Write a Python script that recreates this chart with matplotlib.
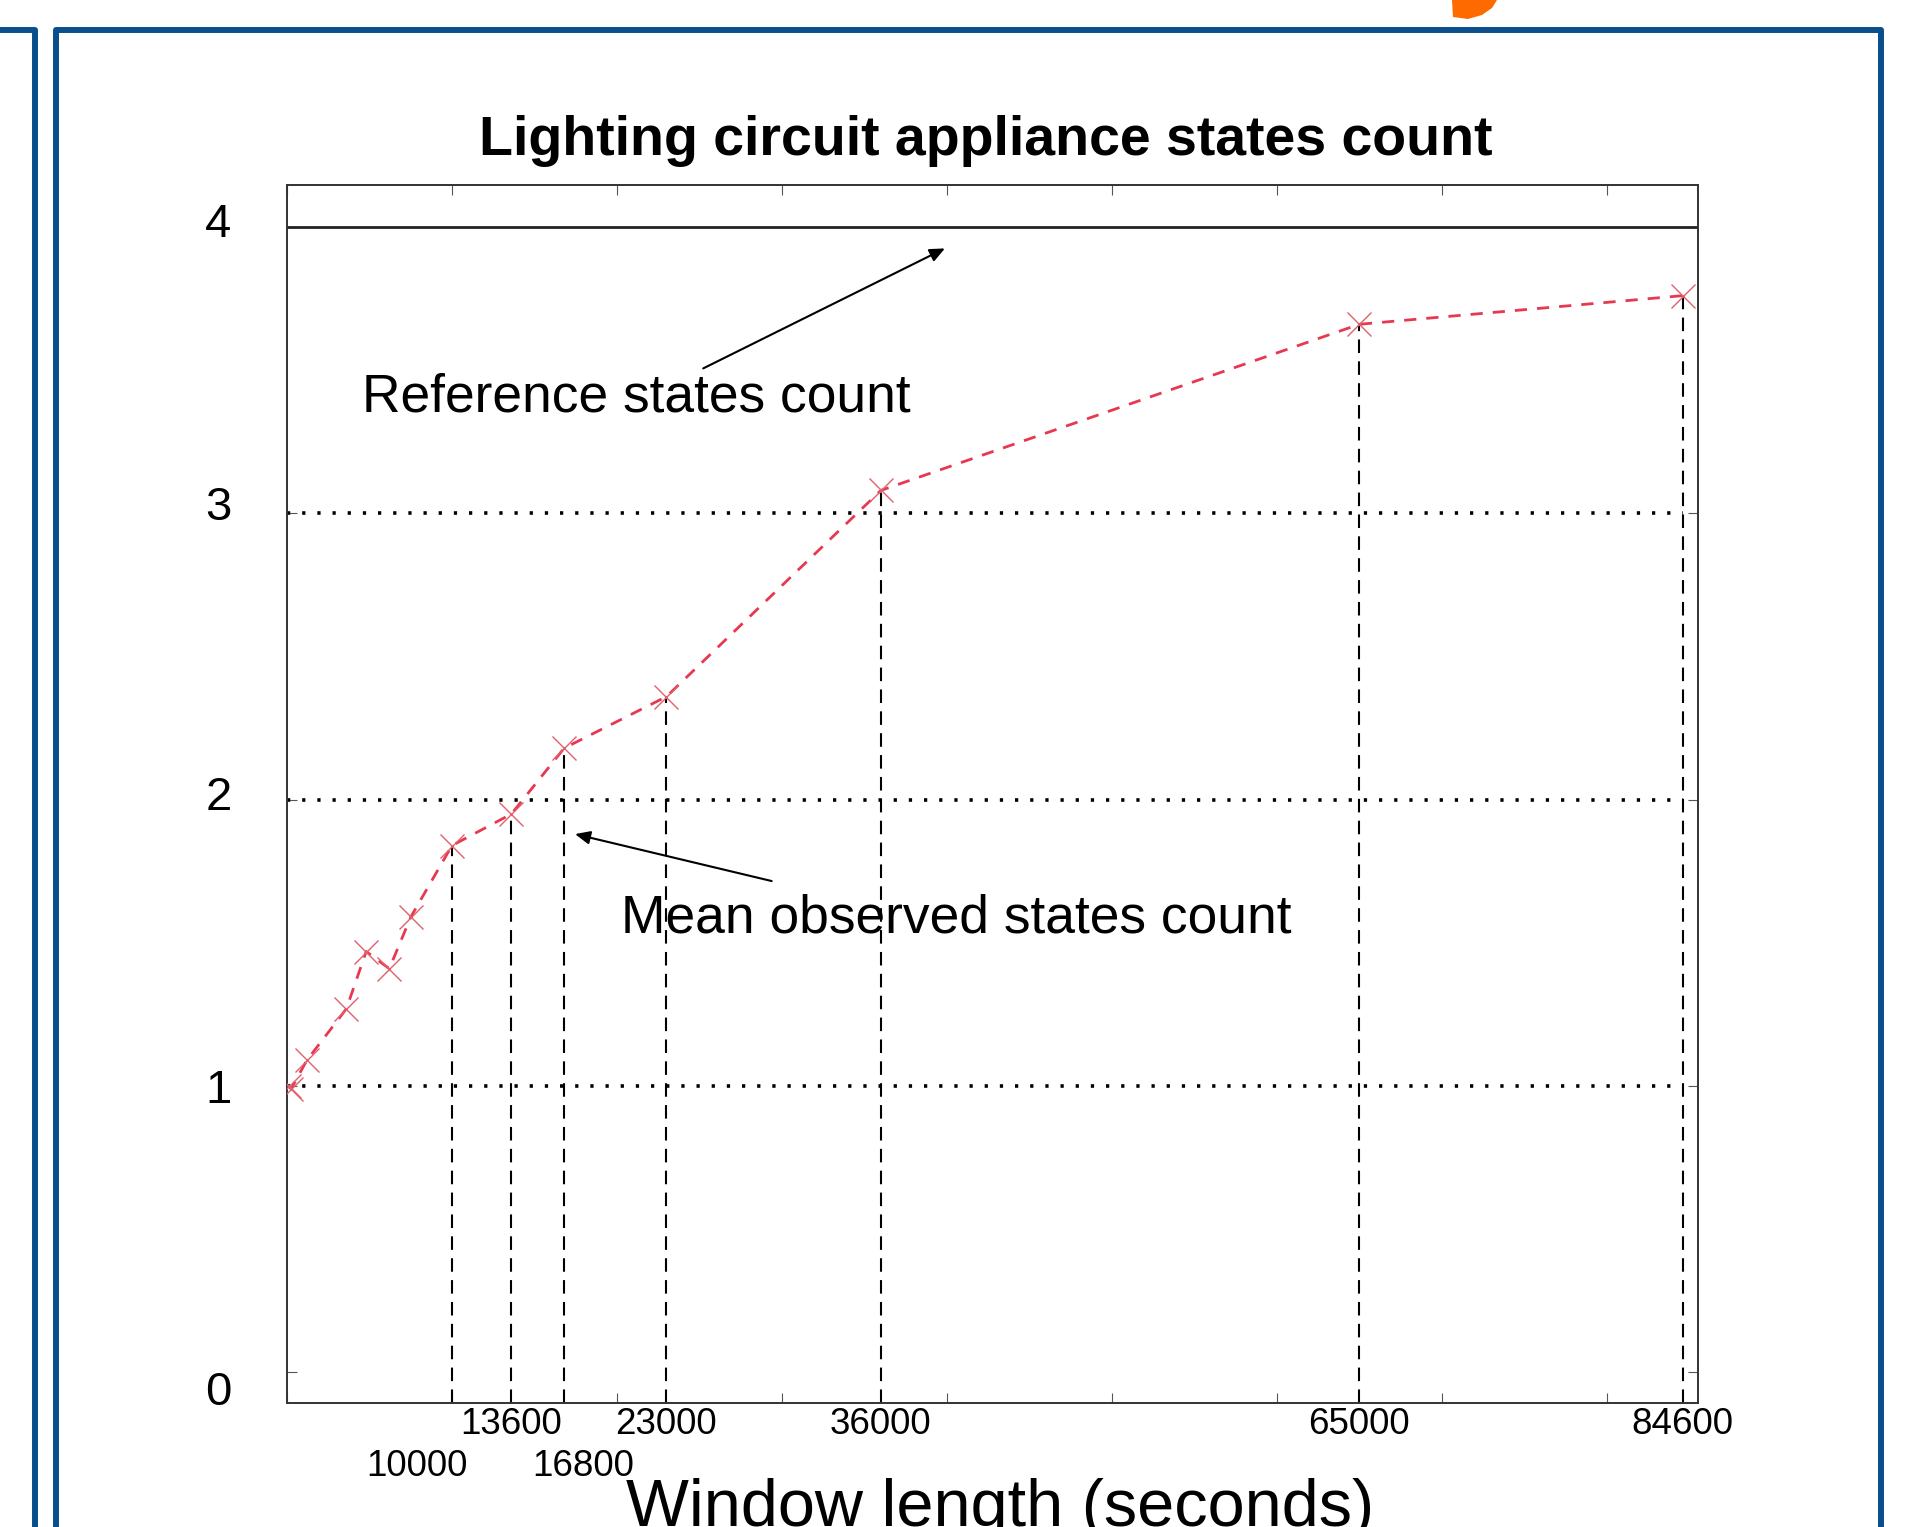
import matplotlib
matplotlib.use("Agg")
import matplotlib.pyplot as plt
import matplotlib.transforms as mtransforms
from matplotlib.lines import Line2D
from matplotlib.patches import Polygon

# mean observed states count per window length (seconds)
window_len = [100, 250, 1200, 3600, 4800, 6200, 7500, 10000, 13600, 16800,
              23000, 36000, 65000, 84600]
mean_states = [1.00, 0.99, 1.09, 1.27, 1.47, 1.41, 1.59, 1.84, 1.95, 2.18,
               2.36, 3.08, 3.66, 3.76]

# windows marked with a drop line and a label
marked_len = [10000, 13600, 16800, 23000, 36000, 65000, 84600]
marked_states = [1.84, 1.95, 2.18, 2.36, 3.08, 3.66, 3.76]
marked_labels = ["10000", "13600", "16800", "23000", "36000", "65000", "84600"]

reference_count = 4
y_ticks = [0, 1, 2, 3, 4]
grid_levels = [1, 2, 3]

W, H = 1913, 1527
font = ["Liberation Sans", "DejaVu Sans"]
blue = "#0a4f8c"

fig = plt.figure(figsize=(W / 100, H / 100), dpi=100)


def px(x, y):
    return x / W, 1 - y / H


# slide frame
frame = [
    [(0, 30), (35, 30), (35, H)],
    [(56, H), (56, 30), (1881, 30), (1881, H)],
]
for seg in frame:
    xs, ys = zip(*[px(*p) for p in seg])
    fig.add_artist(Line2D(xs, ys, color=blue, lw=4.3, solid_joinstyle="round"))
blob = [px(1452, 0), px(1453, 17), px(1468, 19), px(1482, 15), px(1492, 8), px(1497, 0)]
fig.add_artist(Polygon(blob, closed=True, color="#ff6a00", lw=0))

ax = fig.add_axes([287 / W, 1 - 1403 / H, (1698 - 287) / W, (1403 - 185.4) / H])
ax.set_xlim(0, 85530)
ax.set_ylim(-0.1065, 4.145)

for s in ax.spines.values():
    s.set_color("#333333")
    s.set_linewidth(1.4)

ax.set_xticks(range(0, 85000, 10000))
ax.set_xticklabels([])
ax.tick_params(axis="x", direction="in", length=7, width=0.8, color="#555555",
               top=True, bottom=True)
ax.set_yticks(y_ticks)
ax.set_yticklabels([str(v) for v in y_ticks], family=font, fontsize=34)
ax.tick_params(axis="y", direction="in", length=7, width=0.8, color="#555555",
               left=True, right=True, pad=40)
# hand-placed look of the y labels (pixel nudges, positive = down)
for lab, dy in zip(ax.get_yticklabels(), [16, 0, -7, -10, -7]):
    lab.set_transform(lab.get_transform() +
                      mtransforms.ScaledTranslation(0, -dy / 100, fig.dpi_scale_trans))

# reference level and dotted guides
ax.axhline(reference_count, color="#222222", lw=2)
ax.hlines(grid_levels, 0, marked_len[-1], colors="black", lw=2.6,
          linestyles=(0, (0.9, 3.3)))

# drop lines
for x, y in zip(marked_len, marked_states):
    ax.plot([x, x], [ax.get_ylim()[0], y], color="black", lw=1.5,
            dashes=(6.5, 4))

ax.plot(window_len, mean_states, color="#e8384f", lw=2, dashes=(4.4, 3.6),
        marker="x", markersize=17, markeredgewidth=1.0,
        markeredgecolor="#e0606c", zorder=3)

# tick labels in two rows
tr = ax.get_xaxis_transform()
shift = {"10000": -25, "16800": 14}
for x, lab in zip(marked_len, marked_labels):
    row2 = lab in shift
    ax.annotate(lab, (x, -0.052 if row2 else -0.0175), xycoords=tr,
                xytext=(shift.get(lab, 0), 0), textcoords="offset points",
                ha="center", va="center", family=font, fontsize=26.5,
                annotation_clip=False)

arrow = dict(arrowstyle="-|>,head_length=0.45,head_width=0.2", color="black",
             lw=1.5, mutation_scale=20, shrinkA=0, shrinkB=0)
ax.annotate("", xy=(39880, 3.925), xytext=(25230, 3.506), arrowprops=arrow)
ax.annotate("", xy=(17460, 1.880), xytext=(29380, 1.716), arrowprops=arrow)
ax.text(4546, 3.354, "Reference states count", family=font, fontsize=38.4,
        va="baseline", ha="left")
ax.text(20245, 1.535, "Mean observed states count", family=font, fontsize=38.4,
        va="baseline", ha="left")

fig.text(986 / W, 1 - 155 / H, "Lighting circuit appliance states count",
         family=font, weight="bold", fontsize=40,
         ha="center", va="baseline")
fig.text(1000 / W, 1 - 1526 / H, "Window length (seconds)", family=font,
         fontsize=48, ha="center", va="baseline")

fig.savefig("out.png", dpi=100)
